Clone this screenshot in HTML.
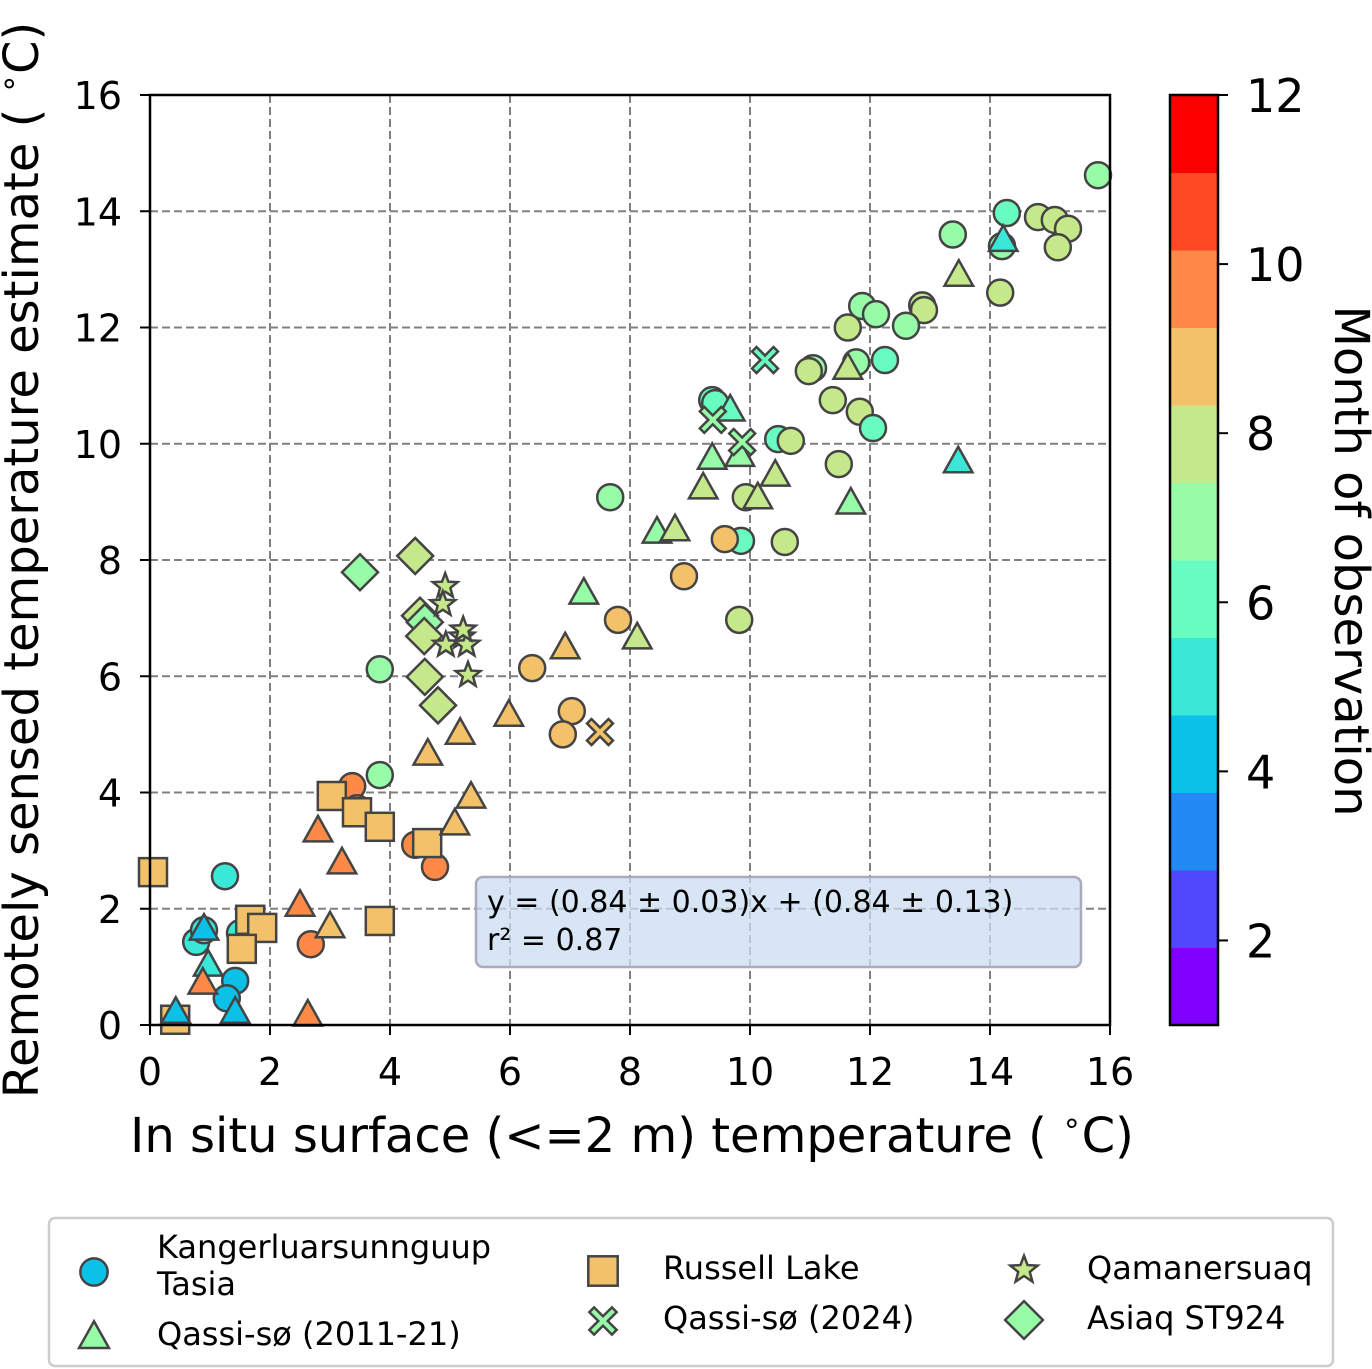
<!DOCTYPE html>
<html><head><meta charset="utf-8"><style>
body{margin:0;background:#fff;}
svg{display:block;font-family:"DejaVu Sans","Liberation Sans",sans-serif;}
</style></head>
<body>
<svg id="chart" width="1372" height="1369" viewBox="0 0 1372 1369" xmlns="http://www.w3.org/2000/svg">
<g id="grid"></g>
<g id="axes"></g>
<g id="marks"></g>
<rect x="150" y="95" width="960" height="930" fill="none" stroke="#000" stroke-width="2.5"/>
<g>
<rect x="476" y="877" width="605" height="90" rx="7" fill="#c9dcf0" fill-opacity="0.75" stroke="#aab" stroke-width="2.5"/>
<text x="487" y="912" font-size="30">y = (0.84 ± 0.03)x + (0.84 ± 0.13)</text>
<text x="487" y="950" font-size="30">r² = 0.87</text>
</g>
<text x="632" y="1152" font-size="48" text-anchor="middle">In situ surface (&lt;=2 m) temperature ( <tspan font-size="31" dy="-19">∘</tspan><tspan dy="19">C)</tspan></text>
<text transform="translate(38,560) rotate(-90)" font-size="48" text-anchor="middle">Remotely sensed temperature estimate ( <tspan font-size="31" dy="-19">∘</tspan><tspan dy="19">C)</tspan></text>
<g id="cbar"></g>
<text transform="translate(1335,561) rotate(90)" font-size="48" text-anchor="middle">Month of observation</text>
<g id="legend">
<rect x="49" y="1218" width="1284" height="148" rx="6" fill="#fff" stroke="#ccc" stroke-width="2.5"/>
</g>
</svg>
<script>
// ---- data ----
const xTicks=[0,2,4,6,8,10,12,14,16];
const yTicks=[0,2,4,6,8,10,12,14,16];
const cbTicks=[2,4,6,8,10,12];
const circleX=[15.8,14.28,14.8,15.08,15.3,15.13,14.2,13.38,14.17,12.87,12.9,11.87,12.1,11.63,12.6,12.25,11.77,11.05,10.98,11.38,11.83,12.05,9.37,9.42,10.47,10.68,11.48,7.67,9.93,9.85,10.58,9.58,8.9,7.8,9.82,6.37,7.03,6.88,3.83,3.83,3.37,3.45,4.42,4.75,2.68,1.25,0.77,0.9,1.5,1.42,1.28];
const circleY=[14.62,13.97,13.9,13.85,13.7,13.38,13.4,13.6,12.6,12.38,12.3,12.37,12.23,12.0,12.03,11.44,11.4,11.3,11.25,10.75,10.55,10.27,10.75,10.7,10.08,10.05,9.65,9.08,9.08,8.33,8.31,8.36,7.72,6.97,6.97,6.14,5.4,5.0,6.12,4.3,4.11,3.73,3.1,2.72,1.39,2.56,1.43,1.63,1.58,0.76,0.46];
const circleM=[7,6,8,8,8,8,7,7,8,8,8,7,7,8,7,6,7,7,8,8,8,6,6,6,6,8,8,7,8,6,8,9,9,9,8,9,9,9,7,7,10,10,10,10,10,5,5,5,5,4,4];
const triX=[14.22,13.48,11.63,13.47,11.68,9.67,9.37,9.83,10.42,10.13,9.22,8.45,8.75,7.23,8.12,6.92,5.98,5.17,4.63,5.35,5.08,2.8,3.2,2.5,3.0,0.9,0.97,0.88,2.63,0.43,1.42];
const triY=[13.5,12.9,11.3,9.69,8.98,10.58,9.75,9.8,9.46,9.07,9.24,8.48,8.52,7.43,6.66,6.49,5.33,5.02,4.66,3.92,3.46,3.34,2.79,2.06,1.69,1.65,1.03,0.72,0.17,0.22,0.22];
const triM=[5,8,8,5,7,6,7,7,8,8,8,7,8,7,8,9,9,9,9,9,9,10,10,10,9,4,5,10,10,4,4];
const sqX=[0.05,3.03,3.45,3.83,4.62,1.67,1.87,1.53,3.83,0.42];
const sqY=[2.63,3.94,3.66,3.41,3.13,1.81,1.67,1.31,1.79,0.09];
const sqM=[9,9,9,9,9,9,9,9,9,9];
const xmX=[10.25,9.38,9.87,7.5];
const xmY=[11.44,10.41,10.03,5.04];
const xmM=[6,7,7,9];
const starX=[4.92,4.88,4.93,5.2,5.28,5.3,5.22];
const starY=[7.55,7.24,6.54,6.68,6.54,6.02,6.8];
const starM=[8,8,8,8,8,8,8];
const diaX=[3.5,4.42,4.5,4.58,4.57,4.58,4.8];
const diaY=[7.79,8.07,7.04,6.93,6.69,5.99,5.5];
const diaM=[7,8,8,7,8,8,8];

// ---- scales ----
const X0=150,X1=1110,Y0=1025,Y1=95;
const sx=v=>X0+(v-0)/16*(X1-X0);
const sy=v=>Y0-(v-0)/16*(Y0-Y1);
const cy=v=>1025-(v-1)/11*930;
function rainbow(t){const r=Math.min(1,Math.abs(2*t-0.5)),g=Math.sin(Math.PI*t),b=Math.cos(Math.PI*t/2);
 const h=c=>Math.round(Math.max(0,Math.min(1,c))*255).toString(16).padStart(2,'0');return '#'+h(r)+h(g)+h(b);}
function monthColor(m){let i=Math.floor((m-1)/(11/12));if(i>11)i=11;return rainbow(i/11);}
const NS='http://www.w3.org/2000/svg';
function mk(tag,at,parent){const e=document.createElementNS(NS,tag);for(const k in at)e.setAttribute(k,at[k]);parent.appendChild(e);return e;}

const grid=document.getElementById('grid'),axes=document.getElementById('axes');
xTicks.forEach(t=>{
 if(t>0&&t<16){const l=mk('line',{x1:sx(t),x2:sx(t),y1:Y1,y2:Y0,stroke:'#808080','stroke-width':2,'stroke-dasharray':'8,4'},grid);
 
 }
 mk('line',{x1:sx(t),x2:sx(t),y1:Y0,y2:Y0+10,stroke:'#000','stroke-width':2},axes);
 const tx=mk('text',{x:sx(t),y:Y0+60,'font-size':38,'text-anchor':'middle'},axes);tx.textContent=t;
 
 
});
yTicks.forEach(t=>{
 if(t>0&&t<16){const l=mk('line',{x1:X0,x2:X1,y1:sy(t),y2:sy(t),stroke:'#808080','stroke-width':2,'stroke-dasharray':'8,4'},grid);
 
 }
 mk('line',{x1:X0-10,x2:X0,y1:sy(t),y2:sy(t),stroke:'#000','stroke-width':2},axes);
 const tx=mk('text',{x:X0-28,y:sy(t)+14,'font-size':38,'text-anchor':'end'},axes);tx.textContent=t;
 
 
});

// markers
function drawMarker(g,shape,px,py,fill,s){
 const st={fill:fill,stroke:'#444','stroke-width':2.5};let e;
 if(shape==='circle')e=mk('circle',Object.assign({cx:px,cy:py,r:13*s},st),g);
 else if(shape==='tri'){const r=15*s;e=mk('polygon',Object.assign({points:`${px},${py-r} ${px+r*0.95},${py+r*0.7} ${px-r*0.95},${py+r*0.7}`},st),g);}
 else if(shape==='sq'){const r=14*s;e=mk('rect',Object.assign({x:px-r,y:py-r,width:2*r,height:2*r},st),g);}
 else if(shape==='dia'){const r=18*s;e=mk('polygon',Object.assign({points:`${px},${py-r} ${px+r},${py} ${px},${py+r} ${px-r},${py}`},st),g);}
 else if(shape==='star'){const R=13*s,r=5.5*s;let p=[];for(let i=0;i<10;i++){const a=-Math.PI/2+i*Math.PI/5,rr=i%2?r:R;p.push((px+rr*Math.cos(a)).toFixed(1)+','+(py+rr*Math.sin(a)).toFixed(1));}
  e=mk('polygon',Object.assign({points:p.join(' ')},st),g);}
 else if(shape==='x'){const a=13*s,w=4.5*s;const pts=[[-a+w,-a],[0,-w],[a-w,-a],[a,-a+w],[w,0],[a,a-w],[a-w,a],[0,w],[-a+w,a],[-a,a-w],[-w,0],[-a,-a+w]];
  e=mk('polygon',Object.assign({points:pts.map(q=>(px+q[0])+','+(py+q[1])).join(' ')},st),g);}
 return e;}
const marks=document.getElementById('marks');
const series=[['circle',circleX,circleY,circleM,'circle-point'],['sq',sqX,sqY,sqM,'square-point'],['tri',triX,triY,triM,'triangle-point'],['dia',diaX,diaY,diaM,'diamond-point'],['star',starX,starY,starM,'star-point'],['x',xmX,xmY,xmM,'cross-point']];
series.forEach(([sh,xs,ys,ms,nm])=>{xs.forEach((v,i)=>{
 const e=drawMarker(marks,sh,sx(v),sy(ys[i]),monthColor(ms[i]),1);
 
 
});});

// colorbar
const cb=document.getElementById('cbar');
for(let i=0;i<12;i++){const y1=1025-(i+1)*930/12;
 const r=mk('rect',{x:1170,y:y1,width:48,height:930/12+0.5,fill:rainbow(i/11)},cb);
 
 }
mk('rect',{x:1170,y:95,width:48,height:930,fill:'none',stroke:'#000','stroke-width':2.5},cb);
cbTicks.forEach(t=>{mk('line',{x1:1218,x2:1228,y1:cy(t),y2:cy(t),stroke:'#000','stroke-width':2},cb);
 const tx=mk('text',{x:1246,y:cy(t)+17,'font-size':46},cb);tx.textContent=t;
 
 });

// legend
const lg=document.getElementById('legend');
const items=[['circle',94,1272,monthColor(4),['Kangerluarsunnguup','Tasia'],157,[1247,1284],'legend-entry-kangerluarsunnguup-tasia'],
['tri',94,1337,monthColor(7),['Qassi-sø (2011-21)'],157,[1334],'legend-entry-qassi-so-2011-21'],
['sq',603,1271,monthColor(9),['Russell Lake'],663,[1268],'legend-entry-russell-lake'],
['x',603,1321,monthColor(7),['Qassi-sø (2024)'],663,[1318],'legend-entry-qassi-so-2024'],
['star',1024,1270,monthColor(8),['Qamanersuaq'],1087,[1268],'legend-entry-qamanersuaq'],
['dia',1024,1320,monthColor(7),['Asiaq ST924'],1087,[1318],'legend-entry-asiaq-st924']];
items.forEach(([sh,mx,my,col,lines,tx,tys,nm])=>{
 const g=mk('g',{},lg);
 
 
 drawMarker(g,sh,mx,my,col,sh==='star'?1.1:1.05);
 lines.forEach((L,i)=>{const t=mk('text',{x:tx,y:tys[i]+11,'font-size':32},g);t.textContent=L;});
});
</script>
</body></html>
